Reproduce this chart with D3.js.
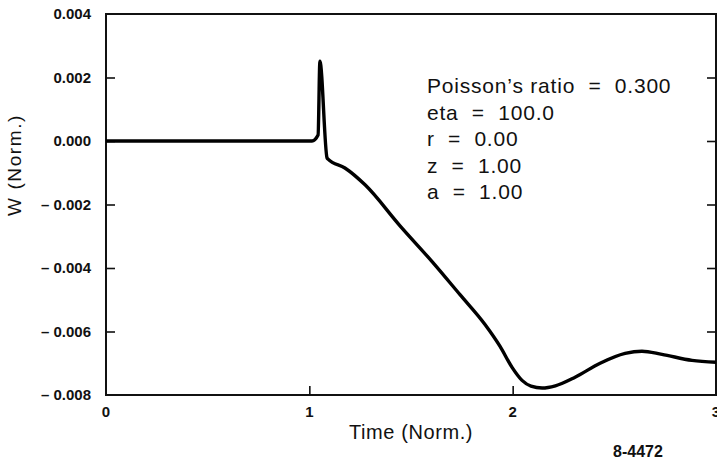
<!DOCTYPE html>
<html>
<head>
<meta charset="utf-8">
<script src="https://cdn.jsdelivr.net/npm/d3@7"></script>
<style>
  body { margin: 0; background: #fff; }
  svg { display: block; font-family: "Liberation Sans", Arial, sans-serif; }
</style>
</head>
<body>
<div class="WPlot"></div>
<script>
// time (norm.) and W (norm.)
const time = [0, 1.013, 1.043, 1.052, 1.087, 1.092, 1.175, 1.274, 1.446, 1.608, 1.741, 1.864,
  1.938, 1.997, 2.046, 2.09, 2.145, 2.21, 2.307, 2.43, 2.553, 2.636, 2.734, 2.882, 3.0]
const wValues = [0, 0, 0.00019, 0.00251, -0.00053, -0.00057, -0.00085, -0.00138, -0.00267, -0.00383,
  -0.00484, -0.00578, -0.00647, -0.00713, -0.00754, -0.00772, -0.00778, -0.00771, -0.00744, -0.007,
  -0.00669, -0.00662, -0.00672, -0.00691, -0.00697]
const xTicks = [0, 1, 2, 3]
const yTicks = [0.004, 0.002, 0, -0.002, -0.004, -0.006, -0.008]
const notes = ["Poisson\u2019s ratio  =  0.300", "eta  =  100.0", "r  =  0.00", "z  =  1.00", "a  =  1.00"]

const width = 717
const height = 461
const margin = ({top: 14, right: 1, bottom: 66, left: 106})

let x = d3.scaleLinear()
  .domain([0, 3])
  .range([margin.left, width - margin.right])

let y = d3.scaleLinear()
  .domain([-0.008, 0.004])
  .range([height - margin.bottom, margin.top])

const fmtY = d => d < 0 ? "\u2013 " + d3.format(".3f")(-d) : d3.format(".3f")(d)

const svg = d3.select(".WPlot").append("svg")
  .attr("width", width)
  .attr("height", height)
  .attr("viewBox", [0, 0, width, height])

// frame
svg.append("rect")
  .attr("x", x(0))
  .attr("y", y(0.004))
  .attr("width", x(3) - x(0))
  .attr("height", y(-0.008) - y(0.004))
  .attr("fill", "none")
  .attr("stroke", "#111")
  .attr("stroke-width", 2)

// left axis, ticks pointing inward
svg.append("g")
  .attr("transform", `translate(${x(0)},0)`)
  .call(d3.axisRight(y).tickValues(yTicks.slice(1, -1)).tickSize(9).tickFormat(""))
  .call(g => g.select(".domain").remove())
  .call(g => g.selectAll("line").attr("stroke", "#111").attr("stroke-width", 1.6))

// right side ticks
svg.append("g")
  .attr("transform", `translate(${x(3)},0)`)
  .call(d3.axisLeft(y).tickValues(yTicks.slice(1, -1)).tickSize(9).tickFormat(""))
  .call(g => g.select(".domain").remove())
  .call(g => g.selectAll("line").attr("stroke", "#111").attr("stroke-width", 1.6))

// y tick labels
svg.append("g")
  .selectAll("text")
  .data(yTicks)
  .join("text")
    .attr("x", x(0) - 15)
    .attr("y", d => y(d))
    .attr("dy", "0.36em")
    .attr("text-anchor", "end")
    .attr("font-size", 15)
    .attr("font-weight", "bold")
    .attr("fill", "#111")
    .text(fmtY)

// bottom axis, ticks pointing up
svg.append("g")
  .attr("transform", `translate(0,${y(-0.008)})`)
  .call(d3.axisTop(x).tickValues(xTicks.slice(1, -1)).tickSize(9).tickFormat(""))
  .call(g => g.select(".domain").remove())
  .call(g => g.selectAll("line").attr("stroke", "#111").attr("stroke-width", 1.6))

svg.append("g")
  .selectAll("text")
  .data(xTicks)
  .join("text")
    .attr("x", d => x(d))
    .attr("y", y(-0.008) + 22)
    .attr("text-anchor", "middle")
    .attr("font-size", 15)
    .attr("font-weight", "bold")
    .attr("fill", "#111")
    .text(d => d)

// axis titles
svg.append("text")
  .attr("text-anchor", "middle")
  .attr("transform", "translate(21,165)rotate(-90)")
  .attr("font-size", 19)
  .attr("letter-spacing", 1.6)
  .attr("fill", "#111")
  .text("W (Norm.)")

svg.append("text")
  .attr("text-anchor", "middle")
  .attr("x", 411)
  .attr("y", 439)
  .attr("font-size", 20)
  .attr("letter-spacing", 0.6)
  .attr("fill", "#111")
  .text("Time (Norm.)")

svg.append("text")
  .attr("x", 613)
  .attr("y", 457)
  .attr("font-size", 16)
  .attr("font-weight", "bold")
  .attr("fill", "#111")
  .text("8-4472")

// parameter block
svg.append("g")
  .selectAll("text")
  .data(notes)
  .join("text")
    .attr("x", 427)
    .attr("y", (d, i) => 93 + i * 26.5)
    .attr("font-size", 21)
    .attr("letter-spacing", 0.8)
    .attr("fill", "#111")
    .style("white-space", "pre")
    .text(d => d)

// the response curve
const line = d3.line()
  .x((d, i) => x(time[i]))
  .y(d => y(d))
  .curve(d3.curveMonotoneX)

svg.append("path")
  .datum(wValues)
  .attr("fill", "none")
  .attr("stroke", "#000")
  .attr("stroke-width", 3.4)
  .attr("stroke-linejoin", "round")
  .attr("d", line)
</script>
</body>
</html>
